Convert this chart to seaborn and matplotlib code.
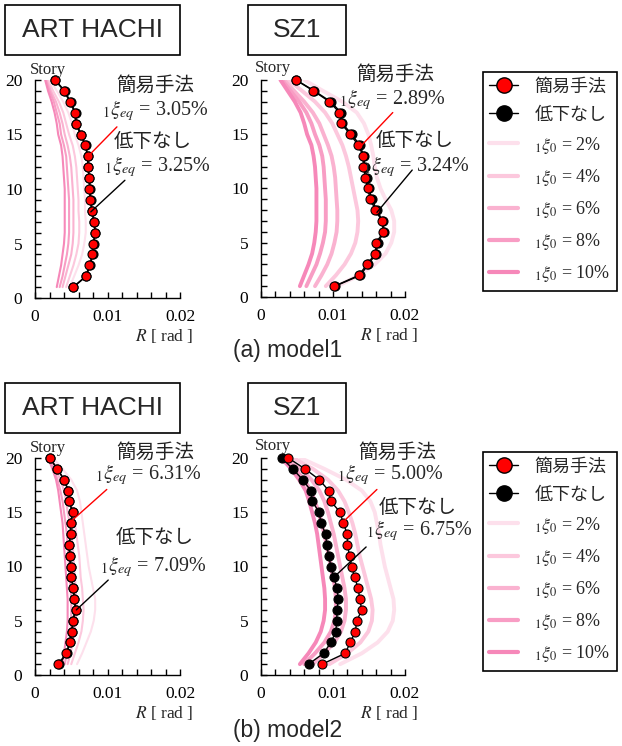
import matplotlib
matplotlib.use("Agg")
import matplotlib.pyplot as plt
import seaborn as sns
import pandas as pd
from matplotlib.lines import Line2D
from matplotlib.patches import Rectangle
from matplotlib.ticker import MultipleLocator

# ---------------- data ----------------
stories = list(range(1, 21))
damping_levels = ["2%", "4%", "6%", "8%", "10%"]
panel_titles = ["ART HACHI", "SZ1"]
model_captions = ["(a) model1", "(b) model2"]
legend_simple = "簡易手法"
legend_none = "低下なし"
eq_simple = ["3.05%", "2.89%", "6.31%", "5.00%"]
eq_none = ["3.25%", "3.24%", "7.09%", "6.75%"]

# ART HACHI, model1
ah1_red = [0.00525, 0.0070, 0.0075, 0.0079, 0.0080, 0.0083, 0.0081, 0.0078, 0.0076, 0.0075,
           0.0075, 0.00727, 0.00727, 0.0069, 0.0063, 0.0056, 0.0055, 0.0048, 0.0040, 0.00276]
ah1_black = [0.00530, 0.0071, 0.0076, 0.0080, 0.0081, 0.0083, 0.0082, 0.0079, 0.0077, 0.0076,
             0.0075, 0.0073, 0.0073, 0.0070, 0.0064, 0.0057, 0.0056, 0.0049, 0.0041, 0.0028]
ah1_xi02 = [0.0048, 0.0054, 0.0060, 0.0065, 0.0068, 0.0070, 0.0070, 0.0069, 0.0069, 0.0068,
            0.0067, 0.0066, 0.0064, 0.0060, 0.0055, 0.0051, 0.0046, 0.0039, 0.0030, 0.0021]
ah1_xi04 = [0.0043, 0.0048, 0.0053, 0.0057, 0.0060, 0.0061, 0.0061, 0.0060, 0.0060, 0.0059,
            0.0058, 0.0057, 0.0055, 0.0052, 0.0047, 0.0043, 0.0039, 0.0033, 0.0025, 0.0018]
ah1_xi06 = [0.0038, 0.0042, 0.0046, 0.0050, 0.0052, 0.0053, 0.0053, 0.0053, 0.0053, 0.0052,
            0.0051, 0.0050, 0.0048, 0.0045, 0.0041, 0.0038, 0.0034, 0.0029, 0.0022, 0.0016]
ah1_xi08 = [0.0034, 0.0038, 0.0041, 0.0044, 0.0046, 0.0047, 0.0047, 0.0047, 0.0047, 0.0046,
            0.0045, 0.0044, 0.0043, 0.0040, 0.0036, 0.0034, 0.0030, 0.0026, 0.0020, 0.0015]
ah1_xi10 = [0.0030, 0.0033, 0.0036, 0.0038, 0.0040, 0.0041, 0.0041, 0.0041, 0.0041, 0.0041,
            0.0040, 0.0039, 0.0038, 0.0036, 0.0032, 0.0030, 0.0027, 0.0023, 0.0018, 0.0014]

# SZ1, model1
sz1_red = [0.0102, 0.0136, 0.0147, 0.0159, 0.0160, 0.0170, 0.0168, 0.0159, 0.0152, 0.0148,
           0.0145, 0.0142, 0.0142, 0.0135, 0.0124, 0.0111, 0.0109, 0.0095, 0.00728, 0.00484]
sz1_black = [0.0103, 0.0138, 0.0149, 0.0160, 0.0162, 0.0171, 0.0169, 0.0161, 0.0154, 0.0150,
             0.0147, 0.0144, 0.0143, 0.0137, 0.0126, 0.0113, 0.0111, 0.0097, 0.0074, 0.0049]
sz1_xi02 = [0.0106, 0.0136, 0.0158, 0.0173, 0.0181, 0.0185, 0.0185, 0.0181, 0.0173, 0.0166,
            0.0161, 0.0158, 0.0156, 0.0153, 0.0149, 0.0143, 0.0133, 0.0113, 0.0086, 0.0060]
sz1_xi04 = [0.0090, 0.0104, 0.0116, 0.0125, 0.0131, 0.0134, 0.0135, 0.0134, 0.0131, 0.0128,
            0.0125, 0.0122, 0.0118, 0.0113, 0.0106, 0.0099, 0.0089, 0.0075, 0.0057, 0.0038]
sz1_xi06 = [0.0075, 0.0084, 0.0092, 0.0098, 0.0102, 0.0105, 0.0106, 0.0106, 0.0105, 0.0104,
            0.0103, 0.0101, 0.0098, 0.0093, 0.0087, 0.0081, 0.0072, 0.0060, 0.0046, 0.0032]
sz1_xi08 = [0.0063, 0.0070, 0.0077, 0.0082, 0.0086, 0.0089, 0.0090, 0.0090, 0.0090, 0.0089,
            0.0088, 0.0087, 0.0085, 0.0081, 0.0075, 0.0070, 0.0063, 0.0053, 0.0041, 0.0029]
sz1_xi10 = [0.0054, 0.0060, 0.0066, 0.0071, 0.0074, 0.0076, 0.0077, 0.0077, 0.0077, 0.0077,
            0.0076, 0.0075, 0.0073, 0.0070, 0.0064, 0.0060, 0.0055, 0.0047, 0.0037, 0.0027]

# ART HACHI, model2
ah2_red = [0.0032, 0.0043, 0.0048, 0.0051, 0.0052, 0.0056, 0.0054, 0.0053, 0.0050, 0.0049,
           0.0048, 0.0047, 0.0049, 0.0049, 0.0052, 0.0047, 0.0046, 0.0040, 0.0031, 0.0020]
ah2_black = [0.0033, 0.0044, 0.0048, 0.0051, 0.0052, 0.0056, 0.0054, 0.0053, 0.0050, 0.0049,
             0.0048, 0.0047, 0.0049, 0.0049, 0.0052, 0.0047, 0.0046, 0.0040, 0.0031, 0.0020]
ah2_xi02 = [0.0058, 0.0065, 0.0071, 0.0077, 0.0081, 0.0083, 0.0083, 0.0080, 0.0077, 0.0074,
            0.0072, 0.0070, 0.0068, 0.0066, 0.0064, 0.0062, 0.0058, 0.0050, 0.0038, 0.0025]
ah2_xi04 = [0.0050, 0.0055, 0.0060, 0.0064, 0.0066, 0.0067, 0.0066, 0.0065, 0.0063, 0.0062,
            0.0061, 0.0059, 0.0057, 0.0055, 0.0052, 0.0050, 0.0046, 0.0040, 0.0031, 0.0022]
ah2_xi06 = [0.0045, 0.0049, 0.0052, 0.0055, 0.0056, 0.0057, 0.0057, 0.0056, 0.0055, 0.0054,
            0.0053, 0.0052, 0.0050, 0.0048, 0.0045, 0.0043, 0.0040, 0.0035, 0.0028, 0.0020]
ah2_xi08 = [0.0041, 0.0044, 0.0047, 0.0049, 0.0050, 0.0050, 0.0050, 0.0049, 0.0048, 0.0047,
            0.0046, 0.0045, 0.0044, 0.0042, 0.0040, 0.0038, 0.0035, 0.0031, 0.0026, 0.0019]
ah2_xi10 = [0.0037, 0.0040, 0.0042, 0.0044, 0.0045, 0.0045, 0.0045, 0.0044, 0.0043, 0.0042,
            0.0041, 0.0040, 0.0039, 0.0038, 0.0036, 0.0034, 0.0032, 0.0029, 0.0024, 0.0018]

# SZ1, model2
sz2_red = [0.0085, 0.0117, 0.0124, 0.0131, 0.0133, 0.0140, 0.0137, 0.0135, 0.0130, 0.0126,
           0.0123, 0.0120, 0.0120, 0.0114, 0.0110, 0.0097, 0.0094, 0.0081, 0.0061, 0.0038]
sz2_black = [0.0066, 0.0087, 0.0097, 0.0104, 0.0105, 0.0106, 0.0107, 0.0106, 0.0101, 0.0097,
             0.0094, 0.0091, 0.0090, 0.0083, 0.0081, 0.0071, 0.0069, 0.0058, 0.0044, 0.0029]
sz2_xi02 = [0.0110, 0.0140, 0.0162, 0.0176, 0.0183, 0.0185, 0.0184, 0.0180, 0.0176, 0.0172,
            0.0169, 0.0166, 0.0164, 0.0161, 0.0158, 0.0152, 0.0140, 0.0118, 0.0088, 0.0055]
sz2_xi04 = [0.0095, 0.0120, 0.0138, 0.0149, 0.0154, 0.0155, 0.0153, 0.0149, 0.0145, 0.0141,
            0.0137, 0.0134, 0.0131, 0.0127, 0.0122, 0.0116, 0.0107, 0.0093, 0.0072, 0.0045]
sz2_xi06 = [0.0072, 0.0088, 0.0102, 0.0111, 0.0116, 0.0118, 0.0118, 0.0116, 0.0113, 0.0110,
            0.0107, 0.0104, 0.0101, 0.0097, 0.0093, 0.0088, 0.0081, 0.0070, 0.0055, 0.0036]
sz2_xi08 = [0.0060, 0.0075, 0.0088, 0.0097, 0.0102, 0.0104, 0.0104, 0.0103, 0.0100, 0.0097,
            0.0094, 0.0091, 0.0088, 0.0084, 0.0080, 0.0075, 0.0069, 0.0060, 0.0047, 0.0032]
sz2_xi10 = [0.0054, 0.0066, 0.0076, 0.0083, 0.0087, 0.0089, 0.0089, 0.0088, 0.0086, 0.0084,
            0.0082, 0.0080, 0.0078, 0.0075, 0.0071, 0.0067, 0.0062, 0.0053, 0.0042, 0.0028]

# ---------------- style ----------------
sns.set_theme(style="ticks")
plt.rcParams["font.family"] = ["Liberation Serif", "Noto Sans CJK JP"]
plt.rcParams["mathtext.fontset"] = "stix"
plt.rcParams["axes.linewidth"] = 1.0

pink = {"2%": "#fde0ec", "4%": "#fcc8dd", "6%": "#fab2d0", "8%": "#f89dc4", "10%": "#f688b9"}

W, H = 622, 746
fig = plt.figure(figsize=(W / 100, H / 100), dpi=100)


def px_axes(x0, y0, x1, y1):
    return fig.add_axes([x0 / W, 1 - y1 / H, (x1 - x0) / W, (y1 - y0) / H])


def build_lines(xi_lists):
    frames = []
    for lvl, vals in zip(damping_levels, xi_lists):
        frames.append(pd.DataFrame({"R": vals, "story": stories, "xi": lvl}))
    return pd.concat(frames, ignore_index=True)


def draw_panel(ax, xi_lists, red, black, lw, annot, eq_s, eq_n):
    df = build_lines(xi_lists)
    for lvl in damping_levels:
        sub = df[df["xi"] == lvl]
        sns.lineplot(data=sub, x="R", y="story", sort=False, estimator=None,
                     color=pink[lvl], lw=lw, ax=ax, legend=False, solid_capstyle="round")
    sns.lineplot(x=black, y=stories, sort=False, estimator=None, color="black", lw=1.0,
                 marker="o", markersize=6.5, markerfacecolor="black",
                 markeredgecolor="black", markeredgewidth=0.8, ax=ax, clip_on=False)
    sns.lineplot(x=red, y=stories, sort=False, estimator=None, color="black", lw=1.0,
                 marker="o", markersize=6.5, markerfacecolor="red",
                 markeredgecolor="black", markeredgewidth=0.8, ax=ax, clip_on=False)
    ax.set_xlim(0, 0.02)
    ax.set_ylim(0, 20)
    ax.set_xticks([0, 0.01, 0.02])
    ax.set_xticklabels(["0", "0.01", "0.02"])
    ax.set_yticks([0, 5, 10, 15, 20])
    ax.xaxis.set_minor_locator(MultipleLocator(0.002))
    ax.yaxis.set_minor_locator(MultipleLocator(1))
    ax.tick_params(which="both", direction="in", length=4.5, width=1.0, color="black",
                   labelsize=12.5, labelcolor="black")
    ax.tick_params(axis="y", which="both", pad=9)
    ax.tick_params(axis="x", which="both", pad=8)
    ax.set_xlabel("")
    ax.set_ylabel("")
    for s in ["top", "right"]:
        ax.spines[s].set_visible(False)
    for s in ["left", "bottom"]:
        ax.spines[s].set_color("black")
    ax.set_facecolor("none")
    ax.text(annot["story"][0], annot["story"][1], "Story", transform=ax.transAxes,
            ha="center", va="center", fontsize=12)
    ax.text(0.89, -0.175, r"$R$ [ rad ]", transform=ax.transAxes, ha="center",
            va="center", fontsize=12.5)
    (sx, sy), (ex, ey) = annot["s_text"], annot["s_eq"]
    ax.text(sx, sy, legend_simple, ha="center", va="center", fontsize=14,
            color="#222222", clip_on=False)
    ax.text(ex, ey, r"${}_{1}\xi_{eq}$ = " + eq_s, ha="center", va="center",
            fontsize=14.5, clip_on=False)
    ax.annotate("", xy=annot["s_line"][0], xytext=annot["s_line"][1],
                arrowprops=dict(arrowstyle="-", color="red", lw=1.0, shrinkA=0, shrinkB=0),
                annotation_clip=False)
    (nx, ny), (qx, qy) = annot["n_text"], annot["n_eq"]
    ax.text(nx, ny, legend_none, ha="center", va="center", fontsize=14,
            color="#222222", clip_on=False)
    ax.text(qx, qy, r"${}_{1}\xi_{eq}$ = " + eq_n, ha="center", va="center",
            fontsize=14.5, clip_on=False)
    ax.annotate("", xy=annot["n_line"][0], xytext=annot["n_line"][1],
                arrowprops=dict(arrowstyle="-", color="black", lw=1.0, shrinkA=0, shrinkB=0),
                annotation_clip=False)


ax1 = px_axes(35, 80, 180, 298)
ax2 = px_axes(261, 80, 405, 297)
ax3 = px_axes(35, 458, 180, 675)
ax4 = px_axes(261, 458, 405, 675)

draw_panel(ax1, [ah1_xi02, ah1_xi04, ah1_xi06, ah1_xi08, ah1_xi10], ah1_red, ah1_black, 1.5,
           dict(story=(0.09, 1.045), s_text=(0.0166, 19.5), s_eq=(0.0166, 17.2),
                s_line=((0.00717, 12.9), (0.0113, 15.7)),
                n_text=(0.0163, 14.3), n_eq=(0.0168, 12.1),
                n_line=((0.0077, 7.9), (0.0124, 10.8))),
           eq_simple[0], eq_none[0])
draw_panel(ax2, [sz1_xi02, sz1_xi04, sz1_xi06, sz1_xi08, sz1_xi10], sz1_red, sz1_black, 2.8,
           dict(story=(0.083, 1.055), s_text=(0.0186, 20.5), s_eq=(0.0182, 18.2),
                s_line=((0.0140, 14.0), (0.0183, 17.0)),
                n_text=(0.0214, 14.4), n_eq=(0.0215, 12.0),
                n_line=((0.0161, 7.8), (0.0210, 11.7))),
           eq_simple[1], eq_none[1])
draw_panel(ax3, [ah2_xi02, ah2_xi04, ah2_xi06, ah2_xi08, ah2_xi10], ah2_red, ah2_black, 1.5,
           dict(story=(0.09, 1.045), s_text=(0.01655, 20.5), s_eq=(0.0156, 18.5),
                s_line=((0.0052, 14.3), (0.0099, 17.1)),
                n_text=(0.01655, 12.6), n_eq=(0.0163, 10.0),
                n_line=((0.0057, 6.0), (0.0101, 8.75))),
           eq_simple[2], eq_none[2])
draw_panel(ax4, [sz2_xi02, sz2_xi04, sz2_xi06, sz2_xi08, sz2_xi10], sz2_red, sz2_black, 2.8,
           dict(story=(0.083, 1.055), s_text=(0.0189, 20.5), s_eq=(0.0179, 18.5),
                s_line=((0.0117, 14.3), (0.0161, 17.1)),
                n_text=(0.0218, 15.4), n_eq=(0.0220, 13.3),
                n_line=((0.0101, 9.0), (0.0146, 11.8))),
           eq_simple[3], eq_none[3])

# titles in boxes (pixel rectangles)
title_boxes = [(5, 180), (248, 346)]
for row_off in [0, 378]:
    for title, (bx0, bx1) in zip(panel_titles, title_boxes):
        by0, by1 = 5 + row_off, 55 + row_off
        fig.patches.append(Rectangle((bx0 / W, 1 - by1 / H), (bx1 - bx0) / W, (by1 - by0) / H,
                                     transform=fig.transFigure, fc="white", ec="black",
                                     lw=1.2))
        fig.text((bx0 + bx1) / 2 / W, 1 - (by0 + by1) / 2 / H, title, ha="center",
                 va="center", fontsize=19, family="Liberation Sans")

for cap, cy in zip(model_captions, [351, 730]):
    fig.text(288 / W, 1 - cy / H, cap, ha="center", va="center", fontsize=16.5,
             family="Liberation Sans")

# legends
handles = [
    Line2D([], [], color="black", lw=1.0, marker="o", ms=11, mfc="red", mec="black"),
    Line2D([], [], color="black", lw=1.0, marker="o", ms=11, mfc="black", mec="black"),
] + [Line2D([], [], color=pink[l], lw=3) for l in damping_levels]
labels = [legend_simple, legend_none] + [r"${}_{1}\xi_{0}$ = " + l for l in damping_levels]
for top in [72, 452]:
    leg = fig.legend(handles, labels, loc="upper left",
                     bbox_to_anchor=(483 / W, 1 - top / H), frameon=True, fancybox=False,
                     edgecolor="black", framealpha=1, fontsize=13, handlelength=1.6,
                     handletextpad=0.9, labelspacing=0.62, borderpad=0.35, borderaxespad=0)
    leg.get_frame().set_linewidth(1.2)

fig.savefig("out.png", dpi=100, facecolor="white")
